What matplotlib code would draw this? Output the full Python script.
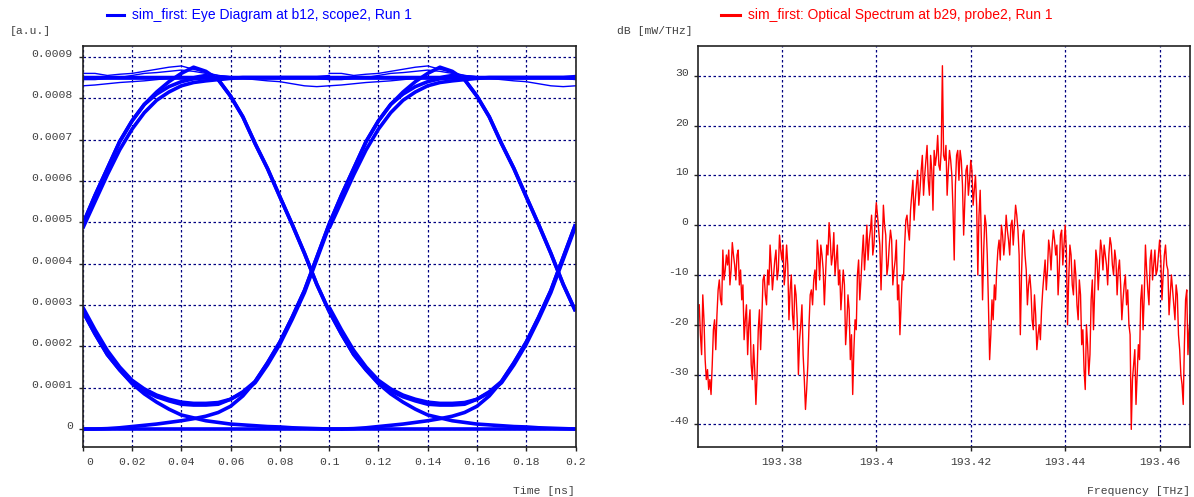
import numpy as np
import matplotlib.pyplot as plt
from matplotlib.lines import Line2D
from matplotlib.transforms import ScaledTranslation

# ---- eye diagram: one bit window of 0.1 ns, drawn for both bit slots ----
# values in units of 1e-4 a.u., sampled every 0.005 ns
t_window = [0.0, 0.005, 0.01, 0.015, 0.02, 0.025, 0.03, 0.035, 0.04, 0.045, 0.05,
            0.055, 0.06, 0.065, 0.07, 0.075, 0.08, 0.085, 0.09, 0.095, 0.1]
slot_offsets = [0.0, 0.1]

eye_low = [0.0] * 21
eye_high = [8.5] * 21
eye_high_fall = [8.5, 8.5, 8.5, 8.5, 8.5, 8.5, 8.5, 8.5, 8.5, 8.5, 8.55,
                 8.45, 8.05, 7.55, 6.9, 6.3, 5.62, 4.95, 4.25, 3.5, 2.85]
eye_fall = [2.85, 2.3, 1.8, 1.43, 1.1, 0.85, 0.65, 0.48, 0.34, 0.27, 0.2,
            0.16, 0.12, 0.1, 0.08, 0.06, 0.05, 0.03, 0.02, 0.01, 0.0]
eye_low_rise = [0.0, 0.0, 0.01, 0.03, 0.06, 0.09, 0.12, 0.16, 0.2, 0.25, 0.31,
                0.4, 0.55, 0.8, 1.15, 1.6, 2.1, 2.7, 3.35, 4.15, 4.95]
eye_rise = [4.95, 5.65, 6.3, 6.95, 7.45, 7.85, 8.1, 8.28, 8.4, 8.47, 8.5,
            8.5, 8.5, 8.5, 8.5, 8.5, 8.5, 8.5, 8.5, 8.5, 8.5]
eye_rise2 = [4.85, 5.5, 6.15, 6.75, 7.25, 7.65, 7.95, 8.15, 8.3, 8.38, 8.42,
             8.45, 8.48, 8.5, 8.5, 8.5, 8.5, 8.5, 8.5, 8.5, 8.5]
eye_hump = [4.95, 5.65, 6.3, 6.95, 7.45, 7.85, 8.15, 8.4, 8.6, 8.75, 8.65,
            8.45, 8.05, 7.55, 6.9, 6.3, 5.62, 4.95, 4.25, 3.5, 2.85]
eye_u = [2.85, 2.3, 1.8, 1.43, 1.12, 0.92, 0.78, 0.68, 0.6, 0.58, 0.58,
         0.6, 0.72, 0.9, 1.15, 1.6, 2.1, 2.7, 3.35, 4.15, 4.95]
eye_u2 = [2.95, 2.4, 1.9, 1.5, 1.18, 0.97, 0.82, 0.72, 0.65, 0.62, 0.62,
          0.64, 0.72, 0.88, 1.12, 1.55, 2.05, 2.65, 3.3, 4.1, 4.9]
eye_top_a = [8.6, 8.6, 8.55, 8.58, 8.6, 8.65, 8.7, 8.75, 8.78, 8.7, 8.62,
             8.55, 8.52, 8.5, 8.5, 8.5, 8.5, 8.5, 8.5, 8.52, 8.55]
eye_top_b = [8.3, 8.32, 8.35, 8.38, 8.4, 8.42, 8.45, 8.48, 8.5, 8.5, 8.5,
             8.5, 8.5, 8.48, 8.45, 8.42, 8.4, 8.35, 8.3, 8.28, 8.3]
eye_top_c = [8.45, 8.45, 8.48, 8.5, 8.55, 8.6, 8.62, 8.65, 8.68, 8.65, 8.6,
             8.55, 8.52, 8.5, 8.5, 8.48, 8.48, 8.5, 8.5, 8.48, 8.45]

# ---- optical spectrum (dB mW/THz) ----
freq_start = 193.3625  # THz
freq_step = 0.00025    # THz
spectrum_db = [
    -16, -22, -26, -14, -19, -27, -31, -29, -33, -31, -34, -28, -21, -19, -25, -18, -13, -11, -15, -16,
    -5, -11, -9, -6, -8, -5, -12, -9, -3.5, -6, -8, -11, -6, -5, -12, -9, -15, -12, -23, -19,
    -16, -26, -20, -17, -28, -31, -24, -29, -36, -30, -21, -17, -25, -19, -11, -10, -14, -16, -9, -12,
    -4, -8, -13, -10, -7, -5, -11, -9, -2, -5, -7, -4, -12, -9, -4, -8, -19, -13, -10, -18,
    -21, -12, -14, -19, -30, -23, -20, -16, -26, -31, -37, -33, -28, -20, -14, -13, -16, -11, -9, -13,
    -3, -6, -11, -4, -6, -9, -16, -10, -4, -6, 0.5, -3, -8, -6, -1.5, -10, -7, -4, -12, -9,
    -17, -13, -9, -12, -24, -20, -14, -17, -27, -22, -34, -25, -19, -21, -10, -7, -15, -11, -6, -2,
    -9, -5, 0, -7, -3, -1, 2, -6, -4, 1, 4.5, 2, -1, -4, -13, -5, 4, 0, -2, -10,
    -8, -4, -1, -3, -12, -9, -7, -3, -15, -12, -22, -16, -10, -11, -4, 1, 2, -1, -3, 3,
    6, 9, 1, 5, 8, 11, 4, 7, 11, 14, 6, 10, 13, 16, 9, 6, 14, 11, 3, 15,
    12, 14, 18, 12, 11, 15, 32, 14, 13, 16, 6, 11, 15, 13, 10, 3, -7, 8, 14, 15,
    9, 15, 13, 8, -2, 5, 11, 12, 6, 9, 13, 11, 4, 7, 10, 4, -10, 2, 7, -3,
    -15, -5, 2, 0, -6, -16, -27, -22, -15, -19, -12, -15, -9, -5, -3, -7, 0, -2, -6, -3,
    2, -1, -3, -6, 0, 1, -4, 0, 4, 2, -1, -6, -22, -10, -2, -1, -6, -9, -16, -12,
    -10, -13, -19, -21, -14, -18, -25, -22, -20, -23, -17, -13, -10, -7, -13, -9, -3, -5, -9, -4,
    -1, -3, -6, -4, -14, -9, -2, -1, -8, -4, 0, -5, -20, -11, -4, -6, -12, -14, -7, -10,
    -16, -19, -11, -14, -24, -21, -29, -33, -20, -24, -30, -26, -15, -11, -21, -13, -5, -7, -13, -8,
    -3, -5, -9, -4, -6, -8, -12, -6, -2.5, -4, -8, -10, -5, -7, -14, -9, -7, -12, -19, -15,
    -12, -10, -16, -13, -20, -22, -41, -31, -28, -25, -36, -30, -24, -27, -15, -12, -21, -14, -4, -9,
    -13, -16, -7, -5, -11, -8, -5, -10, -9, -6, -3, -7, -15, -10, -6, -4, -8, -9, -18, -14,
    -10, -13, -16, -19, -12, -14, -22, -25, -30, -32, -36, -24, -15, -13, -26, -21, -18,
]

eye_xticks = [0, 0.02, 0.04, 0.06, 0.08, 0.1, 0.12, 0.14, 0.16, 0.18, 0.2]
eye_xlabels = ['0', '0.02', '0.04', '0.06', '0.08', '0.1', '0.12', '0.14', '0.16', '0.18', '0.2']
eye_yticks = [0, 0.0001, 0.0002, 0.0003, 0.0004, 0.0005, 0.0006, 0.0007, 0.0008, 0.0009]
eye_ylabels = ['0', '0.0001', '0.0002', '0.0003', '0.0004', '0.0005', '0.0006', '0.0007', '0.0008', '0.0009']
spec_xticks = [193.38, 193.40, 193.42, 193.44, 193.46]
spec_xlabels = ['193.38', '193.4', '193.42', '193.44', '193.46']
spec_yticks = [-40, -30, -20, -10, 0, 10, 20, 30]
spec_ylabels = ['-40', '-30', '-20', '-10', '0', '10', '20', '30']

W, H = 1194, 497
mono = 'Liberation Mono'
label_color = '#404040'
grid_color = '#000080'
tick_fs = 8.2

fig = plt.figure(figsize=(W / 100, H / 100), dpi=100)


def px_axes(x0, y0, x1, y1):
    return fig.add_axes([x0 / W, 1 - y1 / H, (x1 - x0) / W, (y1 - y0) / H])


def style_axes(ax, xticks, xlabels, yticks, ylabels):
    ax.set_xticks(xticks)
    ax.set_xticklabels(xlabels)
    ax.set_yticks(yticks)
    ax.set_yticklabels(ylabels)
    ax.grid(True, color=grid_color, linestyle=(0, (2, 2)), linewidth=0.9)
    ax.set_axisbelow(True)
    ax.tick_params(direction='out', length=3, width=1, color='#222222',
                   labelcolor=label_color, labelsize=tick_fs, pad=4)
    for lab in ax.get_xticklabels() + ax.get_yticklabels():
        lab.set_family(mono)
    # unit labels sit a little above their grid line
    for lab in ax.get_yticklabels():
        lab.set_transform(lab.get_transform() + ScaledTranslation(0, 4 / 100, fig.dpi_scale_trans))
    for sp in ax.spines.values():
        sp.set_color('#222222')
        sp.set_linewidth(1.2)


# ---- left: eye diagram ----
ax1 = px_axes(82.7, 45.7, 575.5, 447.3)
tw = np.array(t_window)
thick_shapes = [eye_low, eye_high, eye_fall, eye_rise, eye_rise2, eye_low_rise,
                eye_high_fall, eye_u, eye_u2, eye_hump]
thin_shapes = [eye_top_a, eye_top_b, eye_top_c]
for off in slot_offsets:
    for shape in thick_shapes:
        ax1.plot(tw + off, np.array(shape) * 1e-4, color='#0000ff', lw=2.6,
                 solid_joinstyle='round', solid_capstyle='butt')
    for shape in thin_shapes:
        ax1.plot(tw + off, np.array(shape) * 1e-4, color='#0000ff', lw=1.0)
ax1.set_xlim(0, 0.2)
ax1.set_ylim(-0.0000442, 0.000927)
style_axes(ax1, eye_xticks, eye_xlabels, eye_yticks, eye_ylabels)
first = ax1.get_xticklabels()[0]
first.set_horizontalalignment('left')
first.set_transform(first.get_transform() + ScaledTranslation(4 / 100, 0, fig.dpi_scale_trans))

# ---- right: optical spectrum ----
ax2 = px_axes(698.3, 46.0, 1190.3, 447.3)
freq = freq_start + freq_step * np.arange(len(spectrum_db))
ax2.plot(freq, spectrum_db, color='#ff0000', lw=1.0)
ax2.set_xlim(193.3623, 193.4665)
ax2.set_ylim(-44.6, 35.96)
style_axes(ax2, spec_xticks, spec_xlabels, spec_yticks, spec_ylabels)

# ---- legends, units, axis titles ----
fig.add_artist(Line2D([107 / W, 124 / W], [1 - 15 / H, 1 - 15 / H], color='#0000ff', lw=2.2))
fig.text(132 / W, 1 - 15 / H, 'sim_first: Eye Diagram at b12, scope2, Run 1',
         color='#0000ff', fontsize=10, family='Liberation Sans', va='center')
fig.add_artist(Line2D([721 / W, 740 / W], [1 - 15 / H, 1 - 15 / H], color='#ff0000', lw=2.2))
fig.text(748 / W, 1 - 15 / H, 'sim_first: Optical Spectrum at b29, probe2, Run 1',
         color='#ff0000', fontsize=10, family='Liberation Sans', va='center')

fig.text(10 / W, 1 - 31 / H, '[a.u.]', color=label_color, fontsize=tick_fs, family=mono, va='center')
fig.text(617 / W, 1 - 31 / H, 'dB [mW/THz]', color=label_color, fontsize=tick_fs, family=mono, va='center')
fig.text(575 / W, 1 - 491 / H, 'Time [ns]', color=label_color, fontsize=tick_fs, family=mono,
         ha='right', va='center')
fig.text(1190 / W, 1 - 491 / H, 'Frequency [THz]', color=label_color, fontsize=tick_fs, family=mono,
         ha='right', va='center')

fig.savefig('out.png', dpi=100)
